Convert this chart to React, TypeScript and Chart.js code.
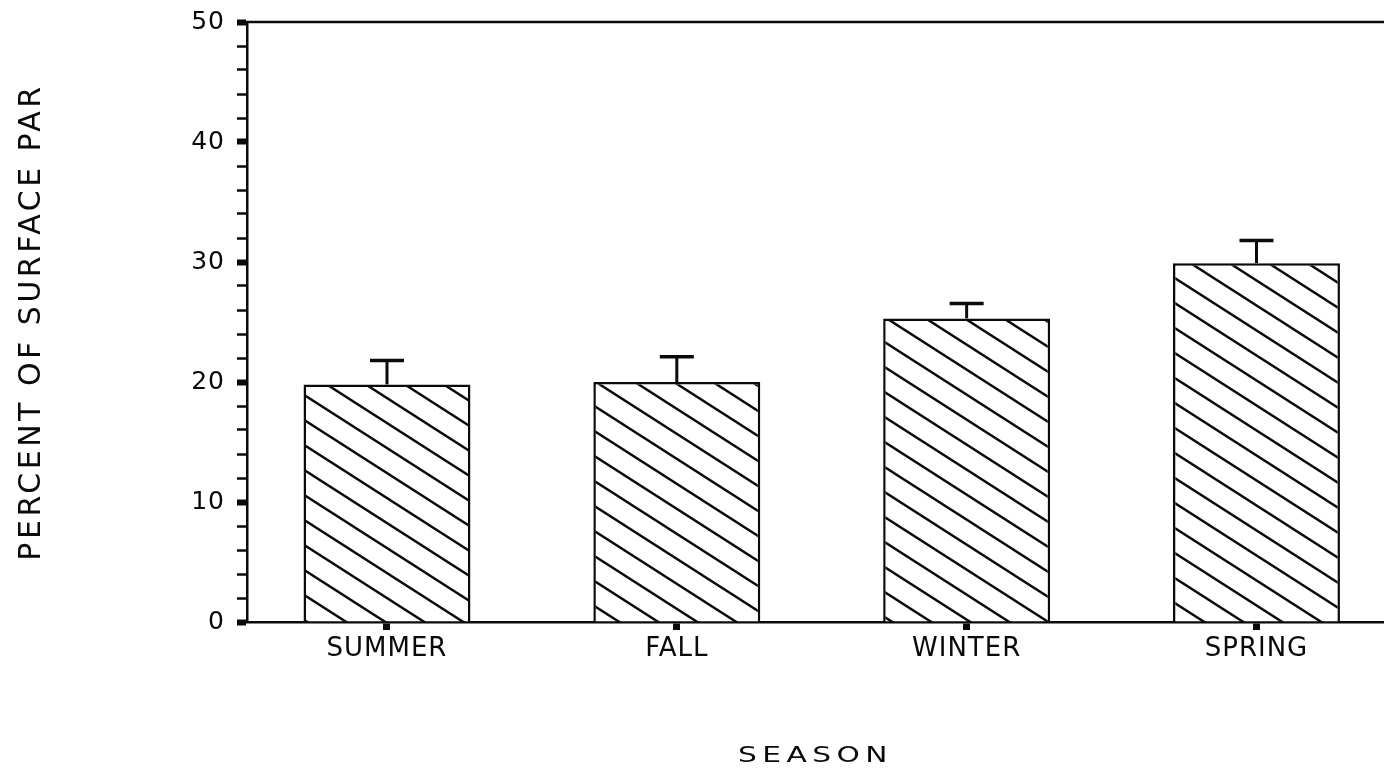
import React, { useEffect, useRef } from 'react';
import { Chart, registerables } from 'chart.js';

Chart.register(...registerables);

// ---- data ----
const categories = ['SUMMER', 'FALL', 'WINTER', 'SPRING'];
const meanPAR = [19.8, 20.0, 25.3, 29.9];
const errorPAR = [2.0, 2.1, 1.25, 1.9];
const yMajorLabels = ['0', '10', '20', '30', '40', '50'];
const xTitle = 'SEASON';
const yTitle = 'PERCENT OF SURFACE PAR';

const FONT = 'DejaVu Sans';
const INK = '#0a0a0a';

function makeHatch(): CanvasPattern | string {
  const w = 39;
  const h = 25;
  const c = document.createElement('canvas');
  c.width = w;
  c.height = h;
  const g = c.getContext('2d');
  if (!g) return '#fff';
  g.fillStyle = '#fff';
  g.fillRect(0, 0, w, h);
  g.strokeStyle = INK;
  g.lineWidth = 2.4;
  for (let k = -1; k <= 1; k++) {
    g.beginPath();
    g.moveTo(-5, k * h + (-5 * h) / w);
    g.lineTo(w + 5, k * h + ((w + 5) * h) / w);
    g.stroke();
  }
  const p = g.createPattern(c, 'repeat');
  return p || '#fff';
}

const topLinePlugin = {
  id: 'topLine',
  afterDraw(chart: any) {
    const { ctx, chartArea } = chart;
    ctx.save();
    ctx.strokeStyle = INK;
    ctx.lineWidth = 2.5;
    ctx.beginPath();
    ctx.moveTo(chartArea.left - 1, chartArea.top);
    ctx.lineTo(chartArea.right, chartArea.top);
    ctx.stroke();
    ctx.restore();
  },
};

const errorBarPlugin = {
  id: 'errorBars',
  afterDatasetsDraw(chart: any) {
    const { ctx } = chart;
    const yScale = chart.scales.y;
    const meta = chart.getDatasetMeta(0);
    ctx.save();
    ctx.strokeStyle = INK;
    meta.data.forEach((el: any, i: number) => {
      const yTop = yScale.getPixelForValue(meanPAR[i] + errorPAR[i]);
      ctx.lineWidth = 3;
      ctx.beginPath();
      ctx.moveTo(el.x, el.y);
      ctx.lineTo(el.x, yTop);
      ctx.stroke();
      ctx.lineWidth = 3.5;
      ctx.beginPath();
      ctx.moveTo(el.x - 17, yTop);
      ctx.lineTo(el.x + 17, yTop);
      ctx.stroke();
    });
    ctx.restore();
  },
};

// plotter-like lettering: extra letter spacing, and horizontally widened x title
const spacingPlugin = {
  id: 'letterSpacing',
  beforeDraw(chart: any) {
    const conf: Record<string, { labels: string; title: string; widen: number }> = {
      x: { labels: '1px', title: '4px', widen: 1.35 },
      y: { labels: '1px', title: '3.5px', widen: 1 },
    };
    Object.keys(conf).forEach((id) => {
      const s = chart.scales[id];
      if (!s || s.__spaced) return;
      s.__spaced = true;
      const dl = s.drawLabels.bind(s);
      const dt = s.drawTitle.bind(s);
      s.drawLabels = (ca: any) => {
        const c = chart.ctx;
        c.save();
        c.letterSpacing = conf[id].labels;
        dl(ca);
        c.restore();
      };
      s.drawTitle = () => {
        const c = chart.ctx;
        c.save();
        c.letterSpacing = conf[id].title;
        const k = conf[id].widen;
        if (k !== 1) {
          const cx = (s.left + s.right) / 2;
          c.translate(cx, 0);
          c.scale(k, 1);
          c.translate(-cx, 0);
        }
        dt();
        c.restore();
      };
    });
  },
};

export default function App() {
  const ref = useRef<HTMLCanvasElement | null>(null);

  useEffect(() => {
    if (!ref.current) return;
    const hatch = makeHatch();
    const chart = new Chart(ref.current, {
      type: 'bar',
      data: {
        datasets: [
          {
            data: meanPAR.map((v, i) => ({ x: i, y: v })),
            backgroundColor: hatch as any,
            borderColor: INK,
            borderWidth: 2.5,
            borderSkipped: 'bottom',
            categoryPercentage: 1,
            barPercentage: 0.576,
          },
        ],
      },
      options: {
        responsive: false,
        animation: false,
        layout: { padding: { top: 22, right: 0, bottom: 0, left: 0 } },
        plugins: {
          legend: { display: false },
          tooltip: { enabled: false },
        },
        scales: {
          x: {
            type: 'linear',
            min: -0.483,
            max: 3.44,
            offset: false,
            afterBuildTicks: (scale: any) => {
              scale.ticks = categories.map((_, i) => ({ value: i }));
            },
            afterFit: (scale: any) => {
              scale.height = 152;
              scale.paddingLeft = 0;
              scale.paddingRight = 0;
            },
            grid: {
              offset: false,
              drawOnChartArea: false,
              tickLength: 8,
              tickWidth: 7,
              tickColor: INK,
            },
            border: { display: true, color: INK, width: 2.5 },
            ticks: {
              autoSkip: false,
              maxRotation: 0,
              padding: 4,
              color: INK,
              font: { family: FONT, size: 26 },
              callback: (v: any) => categories[Math.round(Number(v))] ?? '',
            },
            title: {
              display: true,
              text: xTitle,
              color: INK,
              font: { family: FONT, size: 22 },
              padding: { top: 0, bottom: 5 },
            },
          },
          y: {
            type: 'linear',
            min: 0,
            max: 50,
            afterFit: (scale: any) => {
              scale.width = 247;
              scale.paddingTop = 0;
              scale.paddingBottom = 0;
            },
            grid: {
              drawOnChartArea: false,
              tickLength: 10,
              tickWidth: (ctx: any) => (ctx.tick && ctx.tick.value % 10 === 0 ? 6 : 2.5),
              tickColor: INK,
            },
            border: { display: true, color: INK, width: 2.5 },
            ticks: {
              stepSize: 2,
              autoSkip: false,
              padding: 12,
              color: INK,
              font: { family: FONT, size: 25 },
              callback: (v: any) => {
                const n = Number(v);
                return n % 10 === 0 ? yMajorLabels[n / 10] : '';
              },
            },
            title: {
              display: true,
              text: yTitle,
              color: INK,
              font: { family: FONT, size: 30 },
              padding: { top: 14, bottom: 0 },
            },
          },
        },
      },
      plugins: [spacingPlugin, errorBarPlugin, topLinePlugin],
    } as any);
    return () => chart.destroy();
  }, []);

  return (
    <div
      style={{
        position: 'fixed',
        left: 0,
        top: 0,
        width: 1384,
        height: 774,
        overflow: 'hidden',
        background: '#fff',
      }}
    >
      <canvas ref={ref} width={1384} height={774} style={{ display: 'block' }} />
    </div>
  );
}
